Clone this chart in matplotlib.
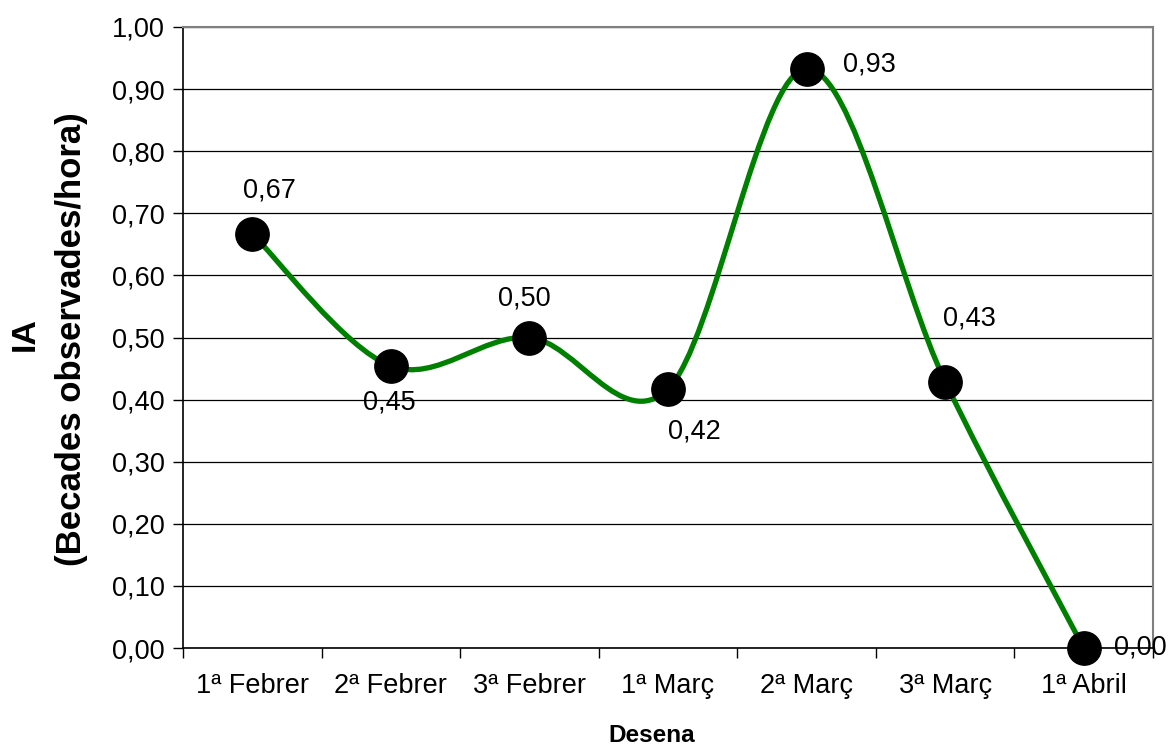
import numpy as np
import matplotlib.pyplot as plt
from matplotlib.path import Path
from matplotlib.patches import PathPatch

plt.rcParams['font.family'] = ['Liberation Sans', 'DejaVu Sans']

# data
desenes = ['1ª Febrer', '2ª Febrer', '3ª Febrer', '1ª Març', '2ª Març', '3ª Març', '1ª Abril']
ia = [0.667, 0.454, 0.500, 0.417, 0.933, 0.429, 0.000]

# label offsets in pixels (dx, dy), manual placement as in the original
label_offsets = [(17, 43), (-2, -36), (-5, 39), (26, -42), (63, 4), (24, 63), (57, 0)]

W, H = 1168, 748
fig = plt.figure(figsize=(W / 100, H / 100), dpi=100)
ax = fig.add_axes([183 / W, 1 - 648 / H, 970 / W, 621 / H])

x = np.arange(len(ia))
y = np.array(ia)

# Excel-like smoothed line: cubic bezier segments (Catmull-Rom control points)
px = np.concatenate([[x[0]], x, [x[-1]]])
py = np.concatenate([[y[0]], y, [y[-1]]])
verts = [(x[0], y[0])]
codes = [Path.MOVETO]
for i in range(len(x) - 1):
    p0 = np.array([px[i], py[i]])
    p1 = np.array([px[i + 1], py[i + 1]])
    p2 = np.array([px[i + 2], py[i + 2]])
    p3 = np.array([px[i + 3], py[i + 3]])
    c1 = p1 + (p2 - p0) / 6
    c2 = p2 - (p3 - p1) / 6
    verts += [tuple(c1), tuple(c2), tuple(p2)]
    codes += [Path.CURVE4] * 3
ax.add_patch(PathPatch(Path(verts, codes), facecolor='none', edgecolor='#008000',
                       lw=3.8, zorder=3, capstyle='round', joinstyle='round'))

ax.plot(x, y, 'o', color='black', markersize=24, zorder=4, clip_on=False)

for xi, yi, (dx, dy) in zip(x, y, label_offsets):
    ax.annotate(f"{yi:.2f}".replace('.', ','), (xi, yi), xytext=(dx * 0.72, dy * 0.72),
                textcoords='offset points', ha='center', va='center', fontsize=19.5,
                zorder=5, annotation_clip=False)

ax.set_xlim(-0.5, len(ia) - 0.5)
ax.set_ylim(0, 1.0)
yt = np.arange(0, 1.01, 0.1)
ax.set_yticks(yt)
ax.set_yticklabels([f"{v:.2f}".replace('.', ',') for v in yt], fontsize=19.5)
ax.yaxis.grid(True, color='black', lw=0.9)
ax.set_axisbelow(True)

ax.set_xticks(x)
ax.set_xticklabels(desenes, fontsize=19.5)
ax.set_xticks(np.arange(-0.5, len(ia), 1.0), minor=True)
ax.tick_params(axis='x', which='major', length=0, pad=18)
ax.tick_params(axis='x', which='minor', length=7, width=1, direction='out')
ax.tick_params(axis='y', length=7, width=1, direction='out', pad=6)

for s in ['left', 'bottom']:
    ax.spines[s].set_color('black')
    ax.spines[s].set_linewidth(1.2)
for s in ['top', 'right']:
    ax.spines[s].set_color('#808080')
    ax.spines[s].set_linewidth(1.5)

fig.text(25 / W, 1 - 334 / H, 'IA', rotation=90, ha='center', va='center',
         fontsize=24.5, fontweight='bold')
fig.text(72 / W, 1 - 339 / H, '(Becades observades/hora)', rotation=90,
         ha='center', va='center', fontsize=25, fontweight='bold')
fig.text(652 / W, 1 - 735 / H, 'Desena', ha='center', va='center',
         fontsize=17.5, fontweight='bold')

fig.savefig('out.png', dpi=100)
